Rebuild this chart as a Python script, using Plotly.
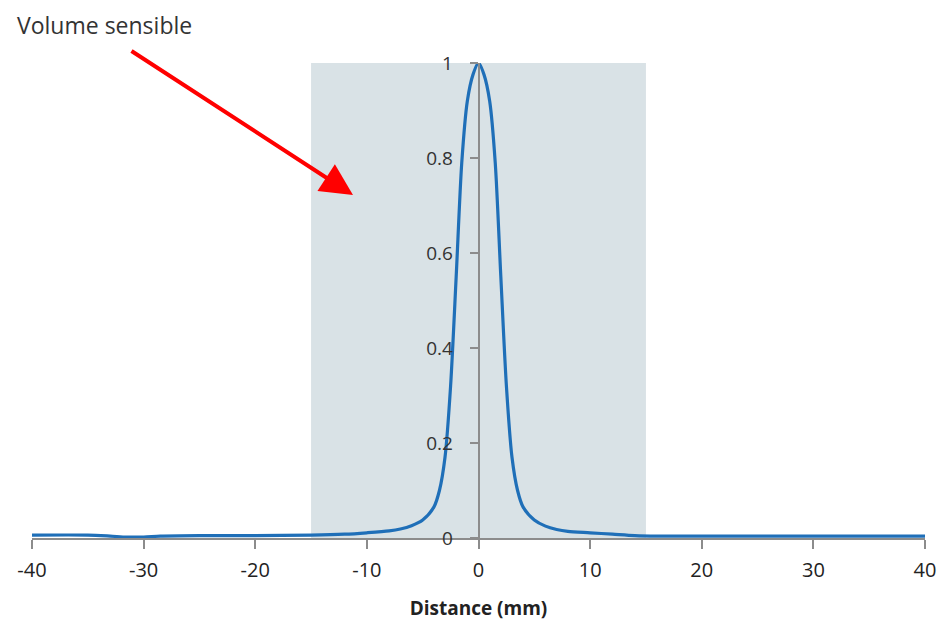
import plotly.graph_objects as go

# Data
distance_mm = [-40, -35, -33, -31.5, -30, -28.5, -25, -20, -15, -12, -10, -8, -7, -6, -5, -4,
               -3.5, -3, -2.5, -2, -1.5, -1, -0.5, 0, 0.5, 1, 1.5, 2, 2.5, 3, 3.5, 4,
               5, 6, 7, 8, 10, 12, 14, 16, 20, 25, 30, 35, 40]
response = [0.006, 0.006, 0.004, 0.002, 0.002, 0.004, 0.005, 0.005, 0.006, 0.008, 0.011, 0.015, 0.019, 0.026, 0.038, 0.065,
            0.10, 0.17, 0.32, 0.55, 0.79, 0.92, 0.975, 1.0, 0.975, 0.92, 0.79, 0.55, 0.32, 0.17, 0.10, 0.065,
            0.038, 0.025, 0.018, 0.014, 0.011, 0.008, 0.005, 0.004, 0.004, 0.004, 0.004, 0.004, 0.004]
x_ticks = [-40, -30, -20, -10, 0, 10, 20, 30, 40]
x_tick_labels = ["-40", "-30", "-20", "-10", "0", "10", "20", "30", "40"]
y_ticks = [0, 0.2, 0.4, 0.6, 0.8, 1]
y_tick_labels = ["0", "0.2", "0.4", "0.6", "0.8", "1"]
sensitive_zone = [-15, 15]

FONT = "Open Sans"
AXIS_GREY = "#8c8c8c"

fig = go.Figure()
fig.add_trace(go.Scatter(
    x=distance_mm, y=response, mode="lines",
    line=dict(color="#1f6fb8", width=3.2, shape="spline", smoothing=0.8),
    showlegend=False, hoverinfo="x+y",
))

fig.add_shape(type="rect", xref="x", yref="y",
              x0=sensitive_zone[0], x1=sensitive_zone[1], y0=0, y1=1,
              fillcolor="#d9e2e6", line=dict(width=0), layer="below")

fig.update_layout(
    width=941, height=621,
    margin=dict(l=32, r=16, t=63, b=83, autoexpand=False),
    paper_bgcolor="white", plot_bgcolor="white",
    font=dict(family=FONT, color="#404040"),
    xaxis=dict(
        range=[-40, 40], tickvals=x_ticks, ticktext=x_tick_labels,
        showgrid=False, zeroline=False, automargin=False,
        showline=True, linecolor=AXIS_GREY, linewidth=1.5,
        ticks="outside", ticklen=9, tickcolor=AXIS_GREY, tickwidth=1.5,
        ticklabelstandoff=4,
        tickfont=dict(size=20, color="#222222", family=FONT),
        title=dict(text="<b>Distance (mm)</b>", font=dict(size=19, color="#222222", family=FONT), standoff=22),
    ),
    yaxis=dict(
        range=[0, 1.0], tickvals=y_ticks, ticktext=y_tick_labels,
        showgrid=False, zeroline=False, automargin=False,
        anchor="free", position=0.5,
        showline=True, linecolor=AXIS_GREY, linewidth=1.5,
        ticks="outside", ticklen=8, tickcolor=AXIS_GREY, tickwidth=1.5,
        ticklabelstandoff=13,
        tickfont=dict(size=19, color="#333333", family=FONT),
    ),
)

fig.add_annotation(xref="paper", yref="paper", x=-0.019, y=1.08,
                   xanchor="left", yanchor="middle", showarrow=False,
                   text="Volume sensible", font=dict(size=23, color="#333333", family=FONT))

fig.add_annotation(xref="paper", yref="paper", x=(353 - 32) / 893, y=(538 - 195) / 475,
                   axref="pixel", ayref="pixel", ax=-223, ay=-145,
                   text="", showarrow=True, arrowhead=2, arrowsize=1.6,
                   arrowwidth=4, arrowcolor="#ff0000", standoff=0)

fig.write_html("out.html")
